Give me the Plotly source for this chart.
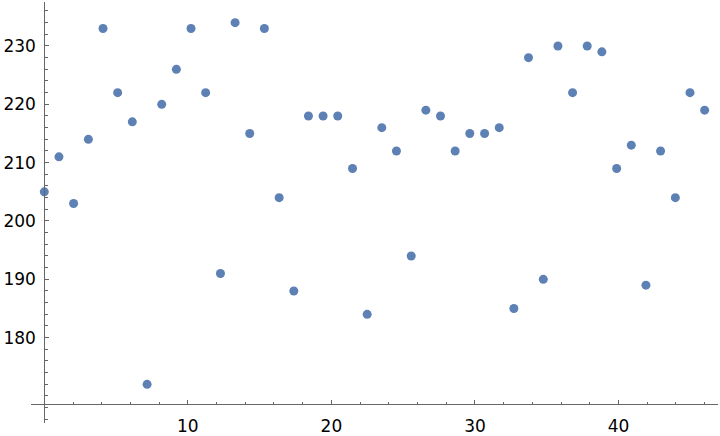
import plotly.graph_objects as go

x_vals = [0.0, 1.02, 2.04, 3.07, 4.09, 5.11, 6.13, 7.16, 8.18, 9.2, 10.22, 11.24, 12.27,
          13.29, 14.31, 15.33, 16.36, 17.38, 18.4, 19.42, 20.44, 21.47, 22.49, 23.51,
          24.53, 25.56, 26.58, 27.6, 28.62, 29.64, 30.67, 31.69, 32.71, 33.73, 34.76,
          35.78, 36.8, 37.82, 38.84, 39.87, 40.89, 41.91, 42.93, 43.96, 44.98, 46.0]
y_vals = [205, 211, 203, 214, 233, 222, 217, 172, 220, 226, 233, 222, 191, 234, 215,
          233, 204, 188, 218, 218, 218, 209, 184, 216, 212, 194, 219, 218, 212, 215,
          215, 216, 185, 228, 190, 230, 222, 230, 229, 209, 213, 189, 212, 204, 222, 219]
x_ticks = [10, 20, 30, 40]
y_ticks = [180, 190, 200, 210, 220, 230]

x_range = [-0.927, 46.93]
y_range = [165.37, 237.54]
x_origin = 0
y_origin = 168.57

axis_color = "#666666"
font = dict(family="DejaVu Sans", size=17, color="#000000")

fig = go.Figure()
fig.add_trace(go.Scatter(
    x=x_vals, y=y_vals, mode="markers",
    marker=dict(color="#5E81B5", size=9, line=dict(width=0)),
    hoverinfo="skip", showlegend=False,
))

fig.update_layout(
    width=720, height=436,
    margin=dict(l=31, r=2, t=2, b=13),
    plot_bgcolor="white", paper_bgcolor="white",
    xaxis=dict(
        range=x_range, showgrid=False, zeroline=False,
        showline=True, linecolor=axis_color, linewidth=1,
        anchor="free",
        position=(y_origin - y_range[0]) / (y_range[1] - y_range[0]),
        tickmode="array", tickvals=x_ticks,
        ticks="inside", ticklen=4, tickcolor=axis_color, tickwidth=1,
        minor=dict(dtick=2, tick0=0, ticks="inside", ticklen=2.5,
                   tickcolor=axis_color, tickwidth=1, showgrid=False),
        tickfont=font, automargin=False, ticklabelstandoff=6,
    ),
    yaxis=dict(
        range=y_range, showgrid=False, zeroline=False,
        showline=True, linecolor=axis_color, linewidth=1,
        anchor="free",
        position=(x_origin - x_range[0]) / (x_range[1] - x_range[0]),
        tickmode="array", tickvals=y_ticks,
        ticks="inside", ticklen=4, tickcolor=axis_color, tickwidth=1,
        minor=dict(dtick=2, tick0=0, ticks="inside", ticklen=2.5,
                   tickcolor=axis_color, tickwidth=1, showgrid=False),
        tickfont=font, automargin=False, ticklabelstandoff=5,
    ),
)

fig.write_html("out.html", config={"displayModeBar": False},
               post_script="document.body.style.margin='0';")
